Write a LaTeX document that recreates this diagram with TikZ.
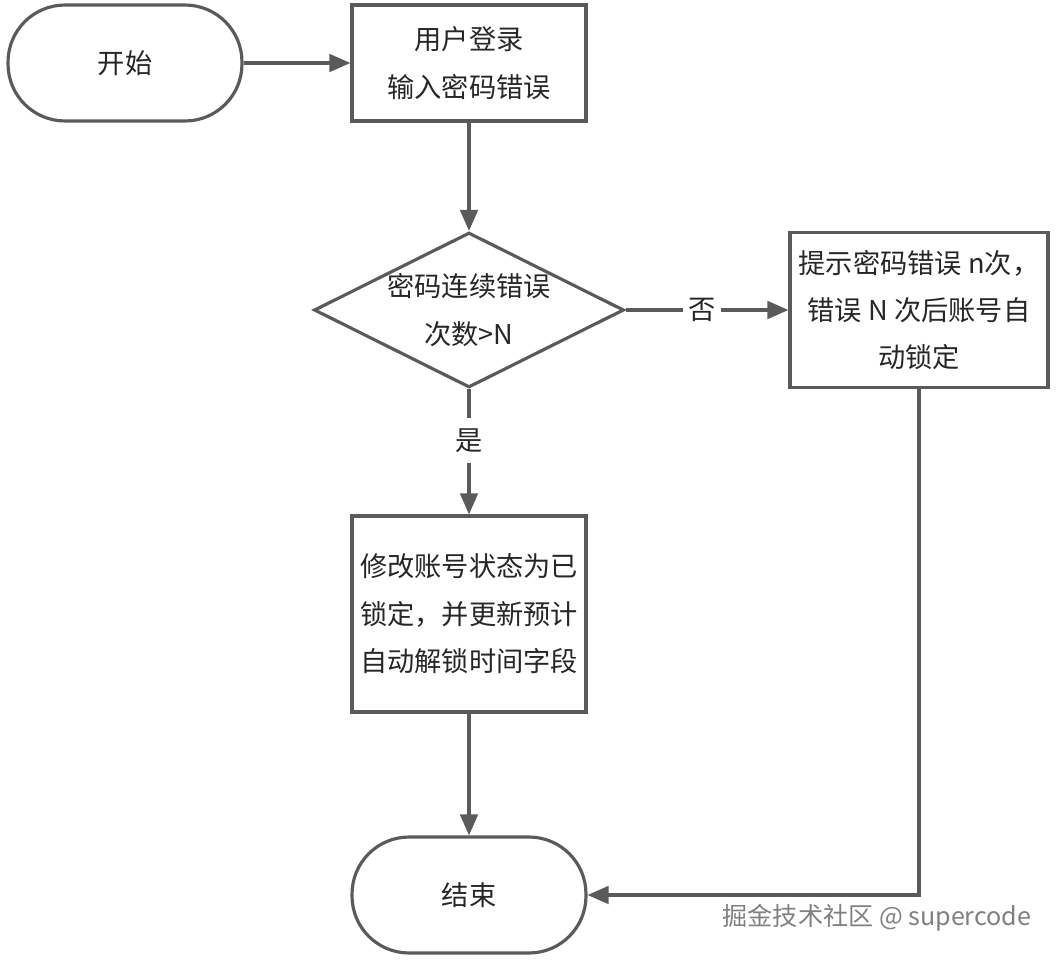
\documentclass[tikz,border=0pt]{standalone}
\usepackage{fontspec}
\setmainfont{Noto Sans CJK SC}
\usetikzlibrary{shapes.geometric,arrows.meta}
\definecolor{linegray}{HTML}{5A5A5A}
\definecolor{textgray}{HTML}{262626}

\begin{document}
\begin{tikzpicture}
    [
        x=0.02cm, y=-0.02cm,
        line width=1.8pt, draw=linegray,
        every node/.style={font=\fontsize{15.5}{27}\selectfont, text=textgray},
        terminal/.style={draw, rounded corners=1.14cm, minimum width=4.68cm, minimum height=2.32cm},
        process/.style={draw, align=center, minimum width=4.68cm, inner sep=0pt},
        decision/.style={draw, diamond, aspect=2, minimum width=6.2cm, minimum height=3.1cm, inner sep=-3pt, align=center},
        answer/.style={fill=white, inner sep=3pt},
        ->, >={Triangle[length=12pt,width=10pt]}
    ]
    \useasboundingbox (0,0) rectangle (1058,960);

    \node [terminal] (start) at (125,63) {开始};
    \node [process, minimum height=2.32cm] (login) at (469,63) {用户登录\\输入密码错误};
    \node [decision] (check) at (469,310) {密码连续错误\\次数>N};
    \node [process, minimum width=5.16cm, minimum height=3.1cm] (hint) at (919,310)
        {提示密码错误 n次，\\错误 N 次后账号自\\动锁定};
    \node [process, minimum height=3.92cm] (lock) at (469,614)
        {修改账号状态为已\\锁定，并更新预计\\自动解锁时间字段};
    \node [terminal] (end) at (469,895) {结束};
    \node [text=gray, font=\fontsize{14.3}{17}\selectfont] (mark) at (877,918) {掘金技术社区 @ supercode};

    \draw (start) -- (login);
    \draw (login) -- (check);
    \draw (check) -- node [answer, pos=0.47] {否} (hint);
    \draw (check) -- node [answer, inner ysep=6pt, pos=0.41] {是} (lock);
    \draw (lock) -- (end);
    \draw (hint.south) |- (end.east);
\end{tikzpicture}
\end{document}
